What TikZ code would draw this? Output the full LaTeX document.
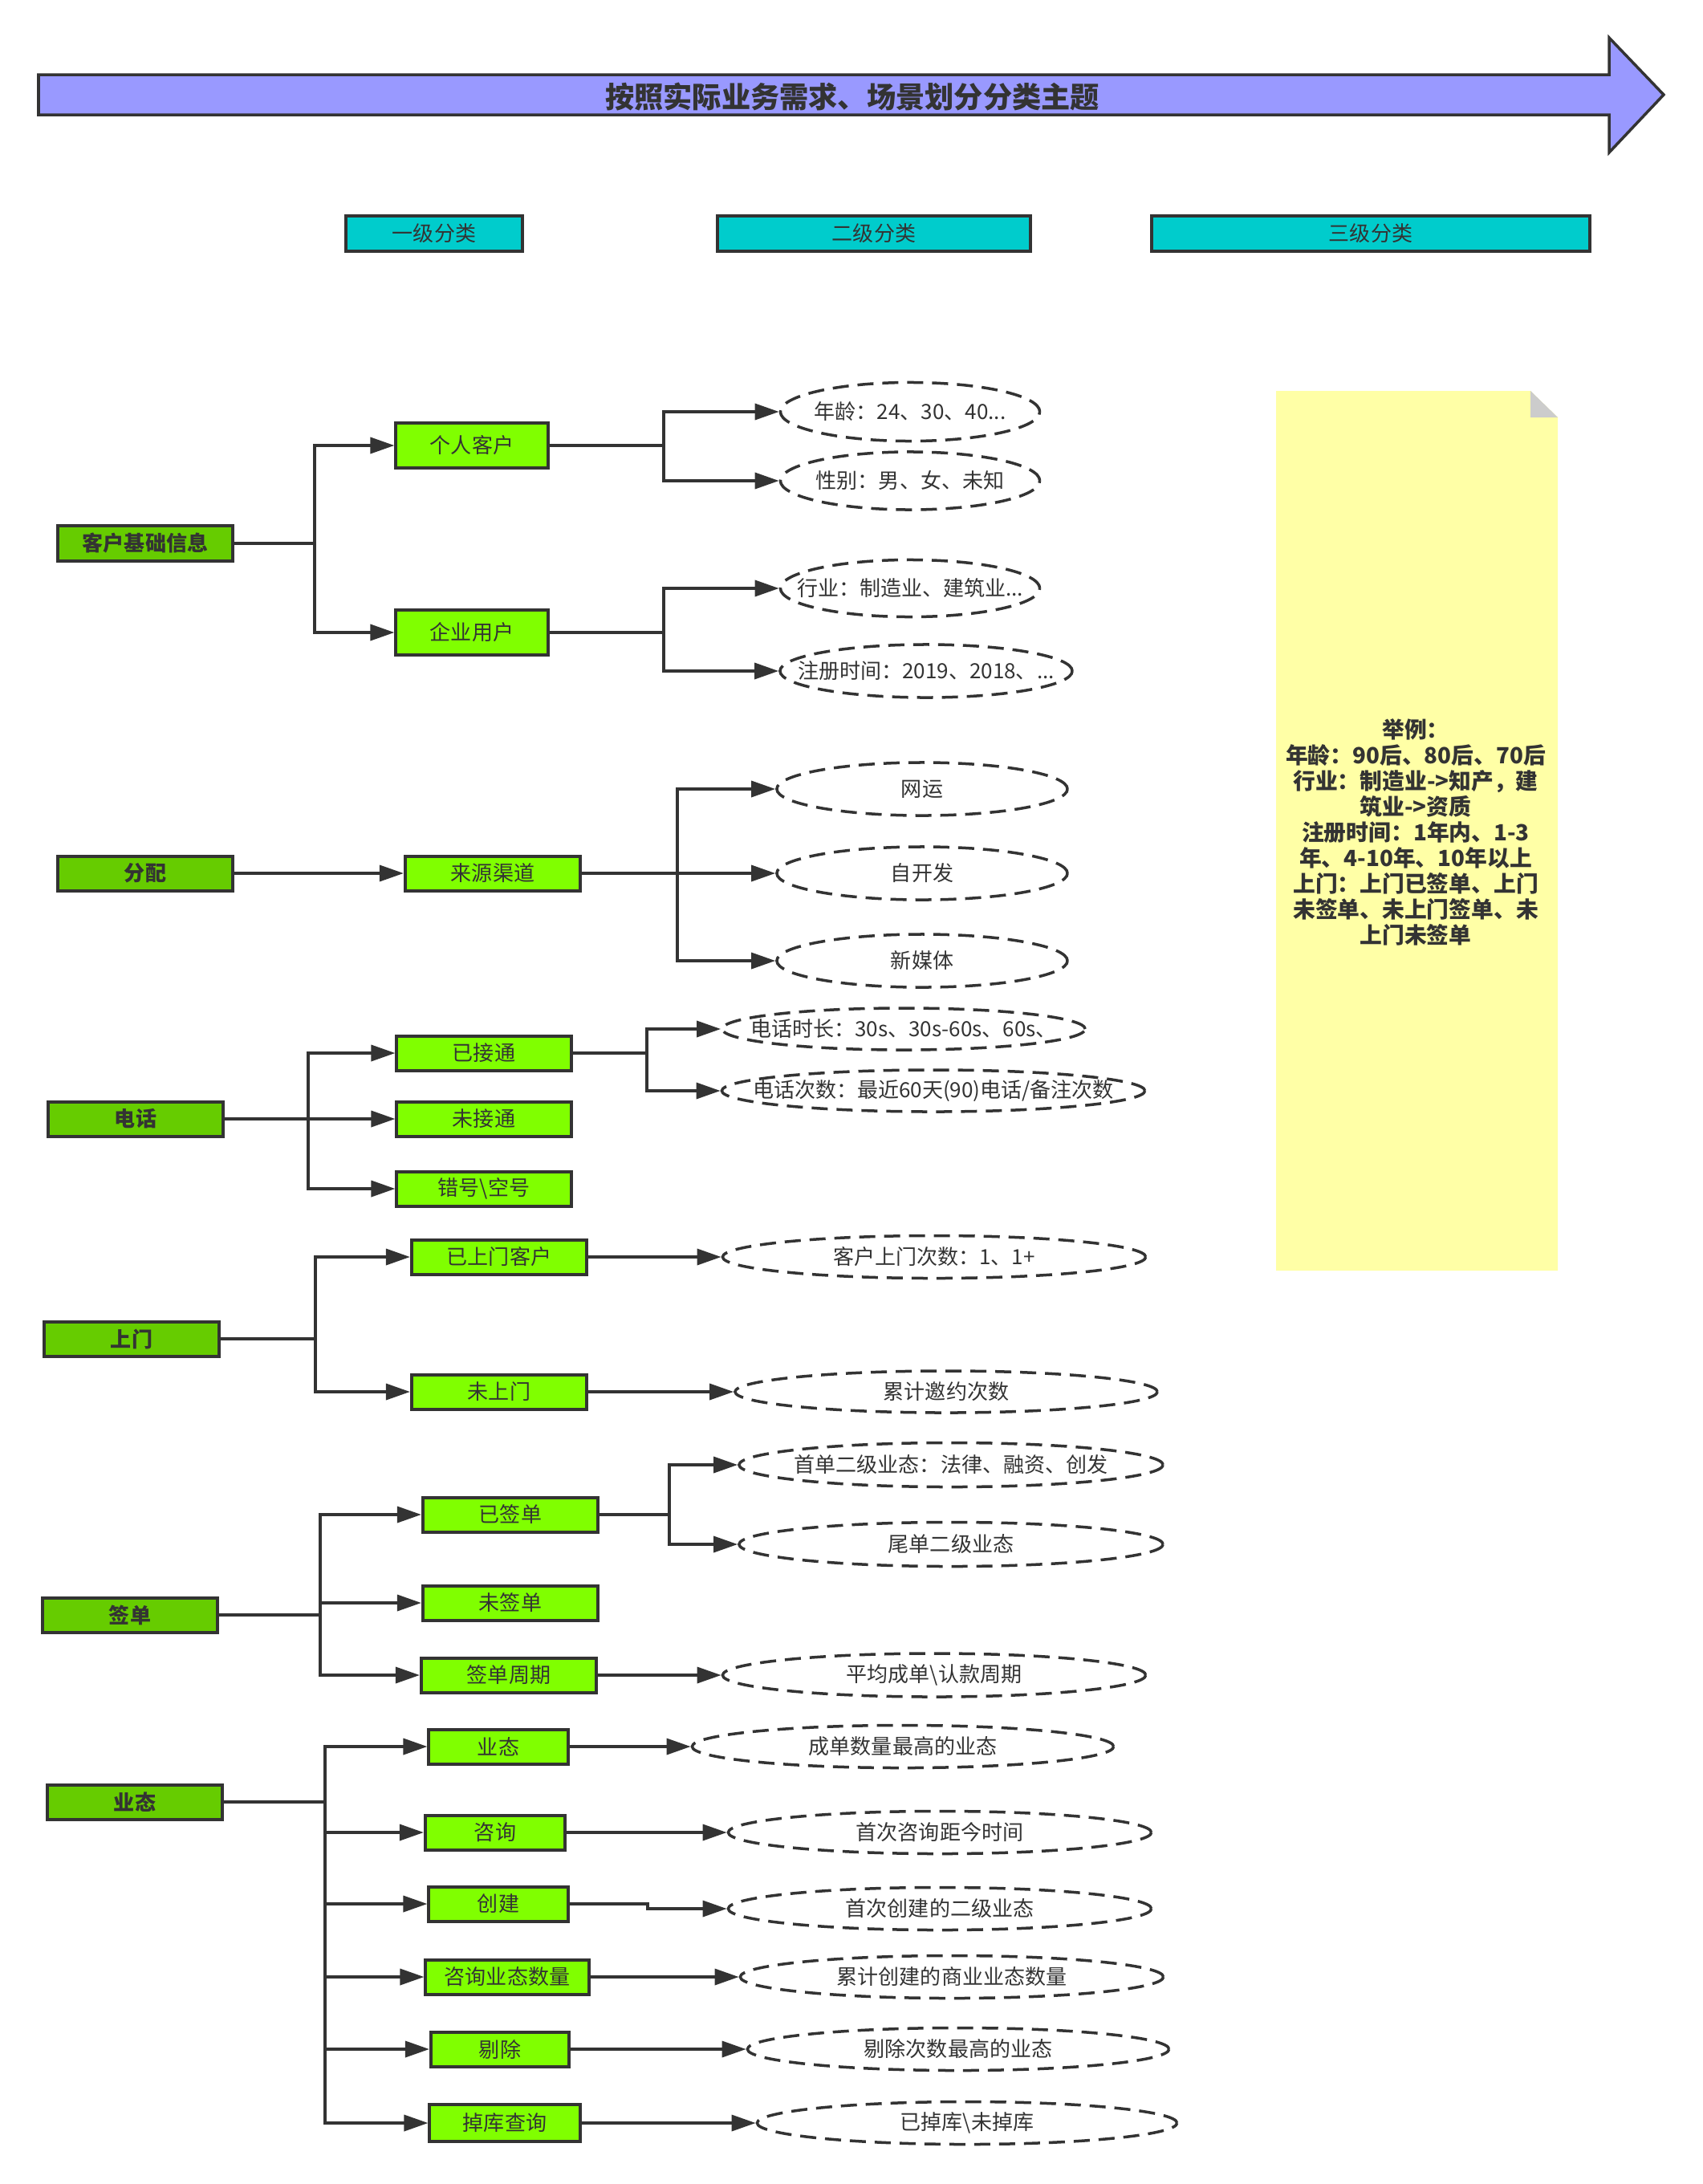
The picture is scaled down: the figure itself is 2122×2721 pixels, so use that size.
\documentclass[tikz,border=0pt]{standalone}
\usepackage{fontspec}
\setmainfont{Noto Sans CJK SC}
\usetikzlibrary{arrows.meta,shapes.geometric}
\definecolor{linea}{HTML}{333333}
\definecolor{titolo}{HTML}{9999FF}
\definecolor{intest}{HTML}{00CCCC}
\definecolor{primo}{HTML}{66CC00}
\definecolor{secondo}{HTML}{80FF00}
\definecolor{nota}{HTML}{FFFFA6}
\definecolor{piega}{HTML}{CCCCCC}
\newcommand{\eltext}[1]{\makebox[0pt]{#1}}
\begin{document}
\begin{tikzpicture}[x=0.01cm, y=-0.01cm, text=linea,
font=\fontsize{7.4pt}{9pt}\selectfont,
box1/.style={draw=linea, line width=0.04cm, fill=primo, minimum width=2.18cm, minimum height=0.43cm, inner sep=0pt, font=\fontsize{7.4pt}{9pt}\selectfont\bfseries},
box2/.style={draw=linea, line width=0.04cm, fill=secondo, minimum height=0.43cm, inner sep=0pt},
hdr/.style={draw=linea, line width=0.04cm, fill=intest, minimum height=0.43cm, inner sep=0pt},
ell/.style={ellipse, draw=linea, line width=0.035cm, dash pattern=on 0.2cm off 0.11cm, inner sep=0pt, minimum height=0.53cm},
ln/.style={draw=linea, line width=0.035cm},
arr/.style={ln, -{Triangle[length=0.3cm, width=0.2cm]}}]
\path[use as bounding box] (0,0) rectangle (2122,2721);
%freccia titolo
\draw[draw=linea, fill=titolo, line width=0.035cm] (48,93) -- (2005,93) -- (2005,47) -- (2073,118) -- (2005,190) -- (2005,143) -- (48,143) -- cycle;
\node[font=\fontsize{10.3pt}{12pt}\selectfont\bfseries] (tit) at (1062,121) {按照实际业务需求、场景划分分类主题};
%intestazioni
\node[hdr, minimum width=2.19cm] (h1) at (541,291) {一级分类};
\node[hdr, minimum width=3.9cm] (h2) at (1089,291) {二级分类};
\node[hdr, minimum width=5.45cm] (h3) at (1708,291) {三级分类};
%nota
\fill[nota] (1590,487) -- (1907,487) -- (1941,520) -- (1941,1583) -- (1590,1583) -- cycle;
\fill[piega] (1907,487) -- (1907,520) -- (1941,520) -- cycle;
\node[font=\fontsize{7.9pt}{9.1pt}\selectfont\bfseries, align=center] (nt) at (1764,1037) {举例：\\年龄：90后、80后、70后\\行业：制造业->知产，建\\筑业->资质\\注册时间：1年内、1-3\\年、4-10年、10年以上\\上门：上门已签单、上门\\未签单、未上门签单、未\\上门未签单};
%primo livello
\node[box1] (kh) at (181,677) {客户基础信息};
\node[box1] (fp) at (181,1088) {分配};
\node[box1] (dh) at (169,1394) {电话};
\node[box1] (sm) at (164,1668) {上门};
\node[box1] (qd) at (162,2012) {签单};
\node[box1] (yt) at (168,2245) {业态};
%secondo livello
\node[box2, minimum width=1.89cm, minimum height=0.55cm] (gr) at (588,555) {个人客户};
\node[box2, minimum width=1.89cm, minimum height=0.55cm] (qy) at (588,788) {企业用户};
\node[box2, minimum width=2.18cm] (ly) at (614,1088) {来源渠道};
\foreach \n/\t/\y in {yjt/已接通/1312, wjt/未接通/1394, ch/错号\textbackslash 空号/1481}
\node[box2, minimum width=2.17cm] (\n) at (603,\y) {\t};
\node[box2, minimum width=2.18cm] (ysm) at (622,1566) {已上门客户};
\node[box2, minimum width=2.18cm] (wsm) at (622,1734) {未上门};
\node[box2, minimum width=2.18cm] (yqd) at (636,1887) {已签单};
\node[box2, minimum width=2.18cm] (wqd) at (636,1997) {未签单};
\node[box2, minimum width=2.18cm] (qdzq) at (634,2087) {签单周期};
\foreach \n/\t/\x/\y/\w in {yt1/业态/621/2176/1.73, zx/咨询/617/2283/1.74, cj/创建/621/2372/1.73, zxsl/咨询业态数量/632/2463/2.03, tc/剔除/623/2553/1.72}
\node[box2, minimum width=\w cm] (\n) at (\x,\y) {\t};
\node[box2, minimum width=1.87cm, minimum height=0.46cm] (dk) at (629,2645) {掉库查询};
%terzo livello
\node[ell, minimum width=3.23cm, minimum height=0.73cm] (e1) at (1134,513) {\eltext{年龄：24、30、40...}};
\node[ell, minimum width=3.23cm, minimum height=0.72cm] (e2) at (1134,599) {\eltext{性别：男、女、未知}};
\node[ell, minimum width=3.23cm, minimum height=0.71cm] (e3) at (1134,733) {\eltext{行业：制造业、建筑业...}};
\node[ell, minimum width=3.64cm, minimum height=0.66cm] (e4) at (1154,836) {\eltext{注册时间：2019、2018、...}};
\foreach \n/\t/\y in {e5/网运/983, e6/自开发/1088, e7/新媒体/1197}
\node[ell, minimum width=3.62cm, minimum height=0.66cm] (\n) at (1149,\y) {\eltext{\t}};
\node[ell, minimum width=4.52cm, minimum height=0.52cm] (e8) at (1126,1282) {\eltext{电话时长：30s、30s-60s、60s、}};
\node[ell, minimum width=5.27cm, minimum height=0.52cm] (e9) at (1163,1359) {\eltext{电话次数：最近60天(90)电话/备注次数}};
\node[ell, minimum width=5.27cm] (e10) at (1164,1566) {\eltext{客户上门次数：1、1+}};
\node[ell, minimum width=5.26cm, minimum height=0.52cm] (e11) at (1179,1734) {\eltext{累计邀约次数}};
\node[ell, minimum width=5.28cm, minimum height=0.55cm] (e12) at (1185,1825) {\eltext{首单二级业态：法律、融资、创发}};
\node[ell, minimum width=5.28cm, minimum height=0.55cm] (e13) at (1185,1924) {\eltext{尾单二级业态}};
\node[ell, minimum width=5.27cm, minimum height=0.54cm] (e14) at (1164,2087) {\eltext{平均成单\textbackslash 认款周期}};
\foreach \n/\t/\x/\y/\w in {e15/成单数量最高的业态/1125/2176/5.25, e16/首次咨询距今时间/1171/2283/5.27, e17/首次创建的二级业态/1171/2378/5.27, e18/累计创建的商业业态数量/1186/2463/5.27, e19/剔除次数最高的业态/1194/2553/5.25, e20/已掉库\textbackslash 未掉库/1205/2645/5.23}
\node[ell, minimum width=\w cm] (\n) at (\x,\y) {\eltext{\t}};
%客户基础信息
\coordinate (s1) at (392,677);
\draw[ln] (kh.east) -- (s1);
\draw[arr] (s1) |- (gr.west);
\draw[arr] (s1) |- (qy.west);
\coordinate (s2) at (827,555);
\draw[ln] (gr.east) -- (s2);
\draw[arr] (s2) |- (e1.west);
\draw[arr] (s2) |- (e2.west);
\coordinate (s3) at (827,788);
\draw[ln] (qy.east) -- (s3);
\draw[arr] (s3) |- (e3.west);
\draw[arr] (s3) |- (e4.west);
%分配
\draw[arr] (fp.east) -- (ly.west);
\coordinate (s4) at (844,1088);
\draw[ln] (ly.east) -- (s4);
\foreach \b in {e5,e6,e7}
\draw[arr] (s4) |- (\b.west);
%电话
\coordinate (s5) at (384,1394);
\draw[ln] (dh.east) -- (s5);
\foreach \b in {yjt,wjt,ch}
\draw[arr] (s5) |- (\b.west);
\coordinate (s6) at (806,1312);
\draw[ln] (yjt.east) -- (s6);
\draw[arr] (s6) |- (e8.west);
\draw[arr] (s6) |- (e9.west);
%上门
\coordinate (s7) at (393,1668);
\draw[ln] (sm.east) -- (s7);
\draw[arr] (s7) |- (ysm.west);
\draw[arr] (s7) |- (wsm.west);
\draw[arr] (ysm.east) -- (e10.west);
\draw[arr] (wsm.east) -- (e11.west);
%签单
\coordinate (s8) at (399,2012);
\draw[ln] (qd.east) -- (s8);
\foreach \b in {yqd,wqd,qdzq}
\draw[arr] (s8) |- (\b.west);
\coordinate (s9) at (834,1887);
\draw[ln] (yqd.east) -- (s9);
\draw[arr] (s9) |- (e12.west);
\draw[arr] (s9) |- (e13.west);
\draw[arr] (qdzq.east) -- (e14.west);
%业态
\coordinate (s10) at (405,2245);
\draw[ln] (yt.east) -- (s10);
\foreach \b in {yt1,zx,cj,zxsl,tc,dk}
\draw[arr] (s10) |- (\b.west);
\foreach \a/\b in {yt1/e15, zx/e16, zxsl/e18, tc/e19, dk/e20}
\draw[arr] (\a.east) -- (\b.west);
\coordinate (j1) at (807,2372);
\draw[arr] (cj.east) -- (j1) |- (e17.west);
\end{tikzpicture}
\end{document}
